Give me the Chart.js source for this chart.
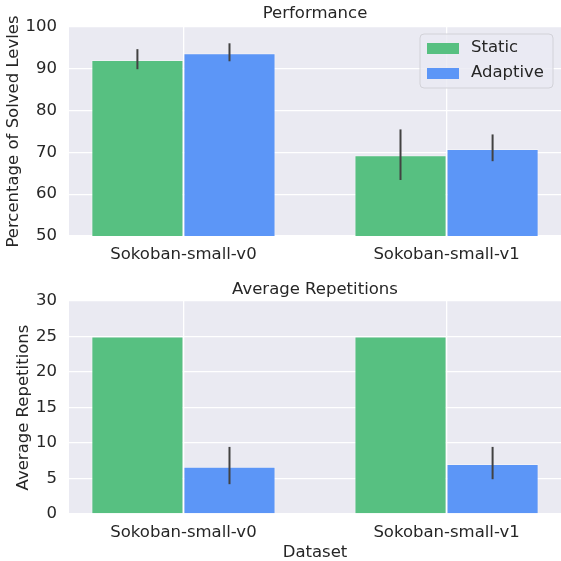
<!DOCTYPE html>
<html>
<head>
<meta charset="utf-8">
<script src="https://cdn.jsdelivr.net/npm/chart.js@4.4.0/dist/chart.umd.min.js"></script>
<style>
  html, body { margin: 0; padding: 0; background: #ffffff; }
  #wrap { position: relative; width: 561px; height: 561px; }
  canvas { position: absolute; left: 0; }
  #perf { top: 0; }
  #reps { top: 275px; }
</style>
</head>
<body>
<div id="wrap">
  <canvas id="perf" width="561" height="275"></canvas>
  <canvas id="reps" width="561" height="286"></canvas>
</div>
<script>
const categories = ["Sokoban-small-v0", "Sokoban-small-v1"];
const seriesNames = ["Static", "Adaptive"];

// solved levels (%) with error bar ranges
const perfStatic = [92.1, 69.3];
const perfStaticLo = [89.9, 63.4];
const perfStaticHi = [94.7, 75.5];
const perfAdaptive = [93.7, 70.8];
const perfAdaptiveLo = [91.8, 67.9];
const perfAdaptiveHi = [96.1, 74.3];

// average repetitions, static has no spread
const repStatic = [25, 25];
const repAdaptive = [6.65, 7.05];
const repAdaptiveLo = [4.2, 4.9];
const repAdaptiveHi = [9.45, 9.45];

const perfTicks = [50, 60, 70, 80, 90, 100];
const repTicks = [0, 5, 10, 15, 20, 25, 30];

const GREEN = "#57c081";
const BLUE = "#5c96f7";
const TEXT = "#262626";
const PANEL = "#eaeaf2";
const FS = 16.5;

Chart.defaults.font.family = "'DejaVu Sans', sans-serif";
Chart.defaults.font.size = FS;
Chart.defaults.color = TEXT;

const toPoints = vals => vals.map((v, i) => ({ x: i, y: v }));

const panelBg = {
  id: "panelBg",
  beforeDraw(chart) {
    const { ctx, chartArea: a } = chart;
    ctx.save();
    ctx.fillStyle = PANEL;
    ctx.fillRect(a.left, a.top, a.right - a.left, a.bottom - a.top);
    ctx.restore();
  }
};

const errorBars = {
  id: "errorBars",
  afterDatasetsDraw(chart) {
    const { ctx } = chart;
    const y = chart.scales.y;
    ctx.save();
    ctx.strokeStyle = "#424242";
    ctx.lineWidth = 2;
    chart.data.datasets.forEach((ds, di) => {
      if (!ds.errLo) return;
      chart.getDatasetMeta(di).data.forEach((bar, i) => {
        ctx.beginPath();
        ctx.moveTo(bar.x, y.getPixelForValue(ds.errLo[i]));
        ctx.lineTo(bar.x, y.getPixelForValue(ds.errHi[i]));
        ctx.stroke();
      });
    });
    ctx.restore();
  }
};

const boxLegend = {
  id: "boxLegend",
  afterDraw(chart) {
    if (!chart.options.plugins.boxLegend) return;
    const { ctx, chartArea: a } = chart;
    const right = a.right - 8, top = a.top + 7;
    const w = 133, h = 54;
    const left = right - w;
    ctx.save();
    ctx.beginPath();
    ctx.roundRect(left, top, w, h, 4);
    ctx.fillStyle = "rgba(234,234,242,0.8)";
    ctx.fill();
    ctx.strokeStyle = "#d2d2d8";
    ctx.lineWidth = 1;
    ctx.stroke();
    ctx.font = FS + "px 'DejaVu Sans'";
    ctx.textBaseline = "middle";
    chart.data.datasets.forEach((ds, i) => {
      const cy = top + 14 + i * 25;
      ctx.fillStyle = ds.backgroundColor;
      ctx.fillRect(left + 7, cy - 5, 32, 11);
      ctx.fillStyle = TEXT;
      ctx.fillText(ds.label, left + 51, cy);
    });
    ctx.restore();
  }
};

function makeChart(el, cfg) {
  return new Chart(el, {
    type: "bar",
    data: {
      datasets: cfg.series.map(s => ({
        label: s.label,
        data: toPoints(s.values),
        errLo: s.lo,
        errHi: s.hi,
        backgroundColor: s.color,
        borderColor: "rgba(255,255,255,0.35)",
        borderWidth: 1,
        categoryPercentage: 0.7,
        barPercentage: 1.0
      }))
    },
    options: {
      responsive: false,
      animation: false,
      devicePixelRatio: 1,
      layout: { padding: 0 },
      plugins: {
        legend: { display: false },
        tooltip: { enabled: false },
        title: {
          display: true,
          fullSize: false,
          text: cfg.title,
          color: TEXT,
          font: { size: FS, weight: "normal", lineHeight: 1.2 },
          padding: cfg.titlePad
        },
        boxLegend: cfg.legend
      },
      scales: {
        x: {
          type: "linear",
          offset: false,
          min: -0.435,
          max: 1.435,
          afterBuildTicks: axis => { axis.ticks = categories.map((_, i) => ({ value: i })); },
          afterFit: axis => { axis.height = cfg.xHeight; },
          ticks: {
            color: TEXT,
            padding: 9,
            maxRotation: 0,
            autoSkip: false,
            callback: v => categories[v]
          },
          grid: { color: "#ffffff", lineWidth: 1.3, drawTicks: false, offset: false },
          border: { display: false },
          title: {
            display: !!cfg.xTitle,
            text: cfg.xTitle,
            color: TEXT,
            font: { size: FS, lineHeight: 1 },
            padding: { top: 0, bottom: 0 }
          }
        },
        y: {
          min: cfg.ticks[0],
          max: cfg.ticks[cfg.ticks.length - 1],
          afterBuildTicks: axis => { axis.ticks = cfg.ticks.map(v => ({ value: v })); },
          afterFit: axis => { axis.width = 69; },
          ticks: { color: TEXT, padding: 12 },
          grid: { color: "#ffffff", lineWidth: 1.3, drawTicks: false },
          border: { display: false },
          title: {
            display: true,
            text: cfg.yTitle,
            color: TEXT,
            font: { size: FS },
            padding: { top: cfg.yTitleOffset, bottom: 0 }
          }
        }
      }
    },
    plugins: [panelBg, errorBars, boxLegend]
  });
}

makeChart(document.getElementById("perf"), {
  title: "Performance",
  titlePad: { top: 4, bottom: 3.2 },
  yTitle: "Percentage of Solved Levles",
  yTitleOffset: 4,
  xHeight: 39,
  ticks: perfTicks,
  legend: true,
  series: [
    { label: seriesNames[0], values: perfStatic, lo: perfStaticLo, hi: perfStaticHi, color: GREEN },
    { label: seriesNames[1], values: perfAdaptive, lo: perfAdaptiveLo, hi: perfAdaptiveHi, color: BLUE }
  ]
});

makeChart(document.getElementById("reps"), {
  title: "Average Repetitions",
  titlePad: { top: 5, bottom: 1.2 },
  yTitle: "Average Repetitions",
  yTitleOffset: 14,
  xTitle: "Dataset",
  xHeight: 47,
  ticks: repTicks,
  legend: false,
  series: [
    { label: seriesNames[0], values: repStatic, color: GREEN },
    { label: seriesNames[1], values: repAdaptive, lo: repAdaptiveLo, hi: repAdaptiveHi, color: BLUE }
  ]
});
</script>
</body>
</html>
